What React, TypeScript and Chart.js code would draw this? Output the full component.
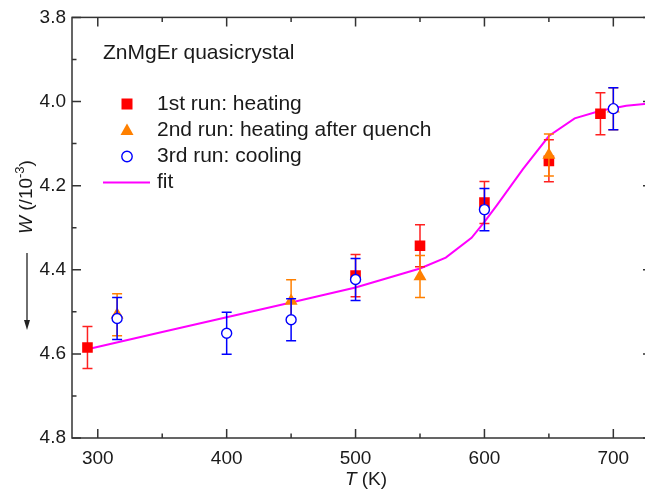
import React, { useEffect, useRef } from "react";
import { Chart, registerables } from "chart.js";
Chart.register(...registerables);

// ---- data ----
const redT = [292, 500, 550, 600, 650, 690];
const redW = [4.585, 4.414, 4.343, 4.24, 4.141, 4.029];
const redErr = [0.05, 0.05, 0.05, 0.05, 0.05, 0.05];

const orangeT = [315, 450, 550, 650, 700];
const orangeW = [4.507, 4.474, 4.416, 4.127, 4.017];
const orangeErr = [0.05, 0.05, 0.05, 0.05, 0.05];

const blueT = [315, 400, 450, 500, 600, 700];
const blueW = [4.516, 4.551, 4.519, 4.423, 4.257, 4.017];
const blueErr = [0.05, 0.05, 0.05, 0.05, 0.05, 0.05];

const fitT = [292, 350, 400, 450, 500, 550, 570, 590, 600, 610, 630, 650, 670, 690, 710, 730];
const fitW = [4.589, 4.548, 4.513, 4.478, 4.442, 4.397, 4.371, 4.324, 4.286, 4.245, 4.16, 4.082, 4.04, 4.022, 4.01, 4.004];

const xTicks = [300, 400, 500, 600, 700];
const xMinor = [350, 450, 550, 650];
const yTicks = [3.8, 4.0, 4.2, 4.4, 4.6, 4.8];
const yMinor = [3.9, 4.1, 4.3, 4.5, 4.7];

const legendLabels = ["1st run: heating", "2nd run: heating after quench", "3rd run: cooling", "fit"];
const sampleLabel = "ZnMgEr quasicrystal";

const FONT = "'Liberation Sans', Arial, Helvetica, sans-serif";
const RED = "#ff0000";
const ORANGE = "#ff8000";
const BLUE = "#0000ff";
const MAGENTA = "#ff00ff";
const AXIS = "#333333";
const TEXT = "#1a1a1a";

const pts = (xs: number[], ys: number[]) => xs.map((x, i) => ({ x, y: ys[i] }));

const errorBars = {
  id: "errorBars",
  beforeDatasetDraw(chart: any, args: any) {
    const ds = chart.data.datasets[args.index];
    if (!ds.errors) return;
    const xs = chart.scales.x;
    const ys = chart.scales.y;
    const ctx = chart.ctx;
    ctx.save();
    ctx.strokeStyle = ds.errorColor;
    ctx.lineWidth = 1.5;
    ds.data.forEach((p: any, i: number) => {
      const px = xs.getPixelForValue(p.x);
      const y1 = ys.getPixelForValue(p.y - ds.errors[i]);
      const y2 = ys.getPixelForValue(p.y + ds.errors[i]);
      ctx.beginPath();
      ctx.moveTo(px, y1);
      ctx.lineTo(px, y2);
      ctx.moveTo(px - 5, y1);
      ctx.lineTo(px + 5, y1);
      ctx.moveTo(px - 5, y2);
      ctx.lineTo(px + 5, y2);
      ctx.stroke();
    });
    ctx.restore();
  },
};

const frame = {
  id: "frame",
  afterDatasetsDraw(chart: any) {
    const { ctx, chartArea: a } = chart;
    const xs = chart.scales.x;
    const ys = chart.scales.y;
    ctx.save();
    ctx.strokeStyle = AXIS;
    ctx.lineWidth = 1.5;
    ctx.strokeRect(a.left, a.top, a.right - a.left, a.bottom - a.top);
    ctx.beginPath();
    const major = 9;
    const minor = 4.5;
    xTicks.forEach((v) => {
      const p = xs.getPixelForValue(v);
      ctx.moveTo(p, a.bottom); ctx.lineTo(p, a.bottom - major);
      ctx.moveTo(p, a.top); ctx.lineTo(p, a.top + major);
    });
    xMinor.forEach((v) => {
      const p = xs.getPixelForValue(v);
      ctx.moveTo(p, a.bottom); ctx.lineTo(p, a.bottom - minor);
      ctx.moveTo(p, a.top); ctx.lineTo(p, a.top + minor);
    });
    yTicks.forEach((v) => {
      const p = ys.getPixelForValue(v);
      ctx.moveTo(a.left, p); ctx.lineTo(a.left + major, p);
      ctx.moveTo(a.right, p); ctx.lineTo(a.right - major, p);
    });
    yMinor.forEach((v) => {
      const p = ys.getPixelForValue(v);
      ctx.moveTo(a.left, p); ctx.lineTo(a.left + minor, p);
      ctx.moveTo(a.right, p); ctx.lineTo(a.right - minor, p);
    });
    ctx.stroke();
    ctx.restore();
  },
  afterDraw(chart: any) {
    const { ctx, chartArea: a } = chart;
    ctx.save();
    ctx.fillStyle = TEXT;
    ctx.textBaseline = "middle";
    // sample label
    ctx.font = `21px ${FONT}`;
    ctx.textAlign = "left";
    ctx.fillText(sampleLabel, a.left + 31, 53);
    // legend
    const rows = [104, 130, 156.5, 182.5];
    const mx = a.left + 55;
    ctx.fillStyle = RED;
    ctx.fillRect(mx - 5.5, rows[0] - 5.5, 11, 11);
    ctx.fillStyle = ORANGE;
    ctx.beginPath();
    ctx.moveTo(mx, rows[1] - 6.5);
    ctx.lineTo(mx + 6.5, rows[1] + 5);
    ctx.lineTo(mx - 6.5, rows[1] + 5);
    ctx.closePath();
    ctx.fill();
    ctx.strokeStyle = BLUE;
    ctx.lineWidth = 1.4;
    ctx.fillStyle = "#fff";
    ctx.beginPath();
    ctx.arc(mx, rows[2], 5.2, 0, Math.PI * 2);
    ctx.fill();
    ctx.stroke();
    ctx.strokeStyle = MAGENTA;
    ctx.lineWidth = 2;
    ctx.beginPath();
    ctx.moveTo(a.left + 31, rows[3]);
    ctx.lineTo(a.left + 78, rows[3]);
    ctx.stroke();
    ctx.fillStyle = TEXT;
    ctx.font = `21px ${FONT}`;
    legendLabels.forEach((t, i) => ctx.fillText(t, a.left + 85, rows[i]));

    // x title
    ctx.font = `italic 19px ${FONT}`;
    const tW = ctx.measureText("T").width;
    ctx.font = `19px ${FONT}`;
    const restW = ctx.measureText(" (K)").width;
    const cx = 366;
    const ty = 480;
    const sx = cx - (tW + restW) / 2;
    ctx.font = `italic 19px ${FONT}`;
    ctx.fillText("T", sx, ty);
    ctx.font = `19px ${FONT}`;
    ctx.fillText(" (K)", sx + tW, ty);

    // y title (rotated)
    ctx.save();
    ctx.translate(27, 197);
    ctx.rotate(-Math.PI / 2);
    ctx.font = `italic 19px ${FONT}`;
    const wW = ctx.measureText("W").width;
    ctx.font = `19px ${FONT}`;
    const p1 = " (/10";
    const p1W = ctx.measureText(p1).width;
    ctx.font = `13px ${FONT}`;
    const supW = ctx.measureText("-3").width;
    ctx.font = `19px ${FONT}`;
    const p2W = ctx.measureText(")").width;
    let x0 = -(wW + p1W + supW + p2W) / 2;
    ctx.font = `italic 19px ${FONT}`;
    ctx.fillText("W", x0, 0);
    x0 += wW;
    ctx.font = `19px ${FONT}`;
    ctx.fillText(p1, x0, 0);
    x0 += p1W;
    ctx.font = `13px ${FONT}`;
    ctx.fillText("-3", x0, -7);
    x0 += supW;
    ctx.font = `19px ${FONT}`;
    ctx.fillText(")", x0, 0);
    ctx.restore();

    // arrow
    ctx.strokeStyle = "#222";
    ctx.fillStyle = "#222";
    ctx.lineWidth = 1.3;
    ctx.beginPath();
    ctx.moveTo(27, 253);
    ctx.lineTo(27, 324);
    ctx.stroke();
    ctx.beginPath();
    ctx.moveTo(27, 330);
    ctx.lineTo(24, 320);
    ctx.lineTo(30, 320);
    ctx.closePath();
    ctx.fill();
    ctx.restore();
  },
};

export default function App() {
  const ref = useRef<HTMLCanvasElement>(null);
  useEffect(() => {
    if (!ref.current) return;
    const chart = new Chart(ref.current, {
      type: "scatter",
      data: {
        datasets: [
          {
            type: "line",
            label: "fit",
            data: pts(fitT, fitW),
            borderColor: MAGENTA,
            borderWidth: 2,
            pointRadius: 0,
            tension: 0,
            fill: false,
            order: 4,
          } as any,
          {
            label: "1st run: heating",
            data: pts(redT, redW),
            errors: redErr,
            errorColor: "#ff2020",
            pointStyle: "rect",
            pointRadius: 7.5,
            backgroundColor: RED,
            borderColor: RED,
            borderWidth: 0,
            order: 3,
          } as any,
          {
            label: "2nd run: heating after quench",
            data: pts(orangeT, orangeW),
            errors: orangeErr,
            errorColor: ORANGE,
            pointStyle: "triangle",
            pointRadius: 7.5,
            backgroundColor: ORANGE,
            borderColor: ORANGE,
            borderWidth: 0,
            order: 2,
          } as any,
          {
            label: "3rd run: cooling",
            data: pts(blueT, blueW),
            errors: blueErr,
            errorColor: BLUE,
            pointStyle: "circle",
            pointRadius: 5,
            backgroundColor: "#ffffff",
            borderColor: BLUE,
            borderWidth: 1.4,
            order: 1,
          } as any,
        ],
      },
      options: {
        animation: false,
        responsive: false,
        devicePixelRatio: 1,
        layout: { padding: { top: 14, right: 8, left: 0, bottom: 0 } },
        plugins: { legend: { display: false }, tooltip: { enabled: false } },
        scales: {
          x: {
            type: "linear",
            min: 280,
            max: 730,
            grid: { display: false, drawTicks: false },
            border: { display: false },
            afterFit: (s: any) => { s.height = 54; },
            afterBuildTicks: (s: any) => { s.ticks = xTicks.map((v) => ({ value: v })); },
            ticks: {
              includeBounds: false,
              padding: 9,
              color: TEXT,
              font: { family: FONT, size: 19 },
              callback: (v: any) => String(v),
            },
          },
          y: {
            type: "linear",
            reverse: true,
            min: 3.8,
            max: 4.8,
            grid: { display: false, drawTicks: false },
            border: { display: false },
            afterFit: (s: any) => { s.width = 72; },
            afterBuildTicks: (s: any) => { s.ticks = yTicks.map((v) => ({ value: v })); },
            ticks: {
              includeBounds: false,
              padding: 6,
              color: TEXT,
              font: { family: FONT, size: 19 },
              callback: (v: any) => Number(v).toFixed(1),
            },
          },
        },
      } as any,
      plugins: [errorBars, frame],
    });
    return () => chart.destroy();
  }, []);
  return (
    <div style={{ position: "fixed", left: 0, top: 0, width: 645, height: 492, overflow: "hidden", background: "#fff" }}>
      <canvas ref={ref} width={660} height={492} style={{ display: "block", width: 660, height: 492 }} />
    </div>
  );
}
